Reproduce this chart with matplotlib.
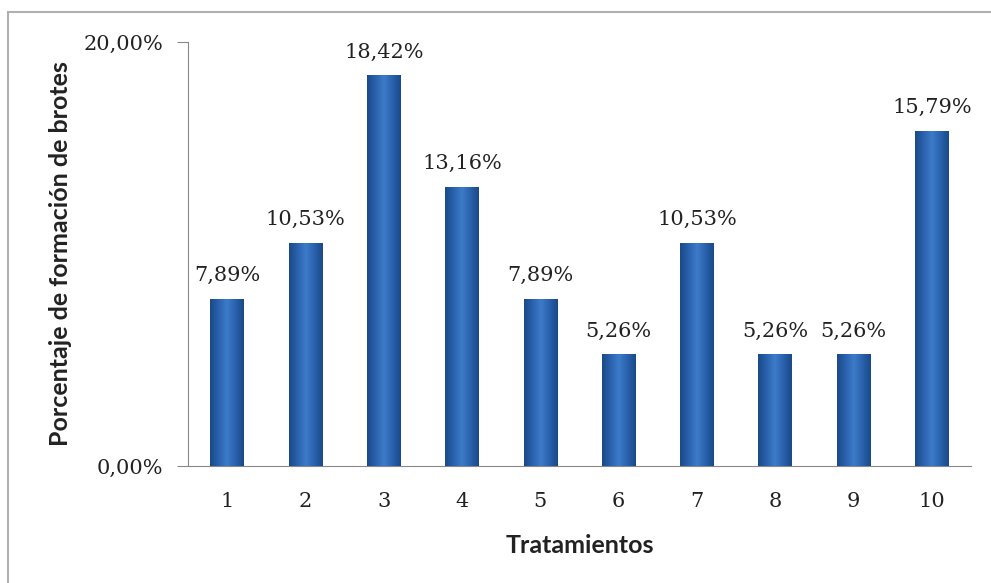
import numpy as np
import matplotlib.pyplot as plt
from matplotlib.patches import Rectangle
from matplotlib.colors import LinearSegmentedColormap

# Datos
tratamientos = ['1', '2', '3', '4', '5', '6', '7', '8', '9', '10']
porcentajes = [7.89, 10.53, 18.42, 13.16, 7.89, 5.26, 10.53, 5.26, 5.26, 15.79]
etiquetas = ['7,89%', '10,53%', '18,42%', '13,16%', '7,89%', '5,26%',
             '10,53%', '5,26%', '5,26%', '15,79%']
yticks = [0, 20]
ytick_labels = ['0,00%', '20,00%']

fig = plt.figure(figsize=(9.91, 5.83), dpi=100)
# marco de la figura (solo arriba e izquierda visibles)
fig.add_artist(Rectangle((0.008, -0.05), 1.0, 1.029, transform=fig.transFigure,
                         fill=False, edgecolor='#b0b0b0', linewidth=1.5))

ax = fig.add_axes([188 / 991, 1 - 466 / 583, 783 / 991, 424 / 583])
x = np.arange(len(tratamientos))
ancho = 0.43

# Sombreado tipo cilindro
cmap = LinearSegmentedColormap.from_list(
    'cil', ['#1a4a88', '#2a62ad', '#3d7bc9', '#2a62ad', '#1a4a88'])
grad = np.linspace(0, 1, 64).reshape(1, -1)

bars = ax.bar(x, porcentajes, width=ancho, color='#2a62ad', zorder=2)
for b in bars:
    x0, w, h = b.get_x(), b.get_width(), b.get_height()
    im = ax.imshow(grad, cmap=cmap, extent=[x0, x0 + w, 0, h],
                   aspect='auto', zorder=3)
    im.set_clip_path(b)

for xi, v, lab in zip(x, porcentajes, etiquetas):
    ax.annotate(lab, (xi, v), xytext=(0, 10), textcoords='offset points',
                ha='center', va='bottom', fontsize=15, family='DejaVu Serif',
                color='#222222')

ax.set_xlim(-0.5, len(tratamientos) - 0.5)
ax.set_ylim(0, 20)
ax.set_yticks(yticks)
ax.set_yticklabels(ytick_labels, family='DejaVu Serif', fontsize=15,
                   color='#222222')
ax.set_xticks(x)
ax.set_xticklabels(tratamientos, family='DejaVu Serif', fontsize=15,
                   color='#222222')
ax.tick_params(axis='x', length=0, pad=19)
ax.tick_params(axis='y', length=8, color='#888888', direction='out', pad=10)

for s in ['top', 'right']:
    ax.spines[s].set_visible(False)
ax.spines['left'].set_color('#888888')
ax.spines['bottom'].set_color('#888888')

ax.set_xlabel('Tratamientos', fontsize=18, fontweight='bold', family='Lato',
              labelpad=16, color='#222222')
ax.set_ylabel('Porcentaje de formación de brotes', fontsize=18,
              fontweight='bold', family='Lato', color='#222222')
ax.yaxis.set_label_coords(-116 / 783, 0.5)

fig.savefig('out.png', dpi=100)
